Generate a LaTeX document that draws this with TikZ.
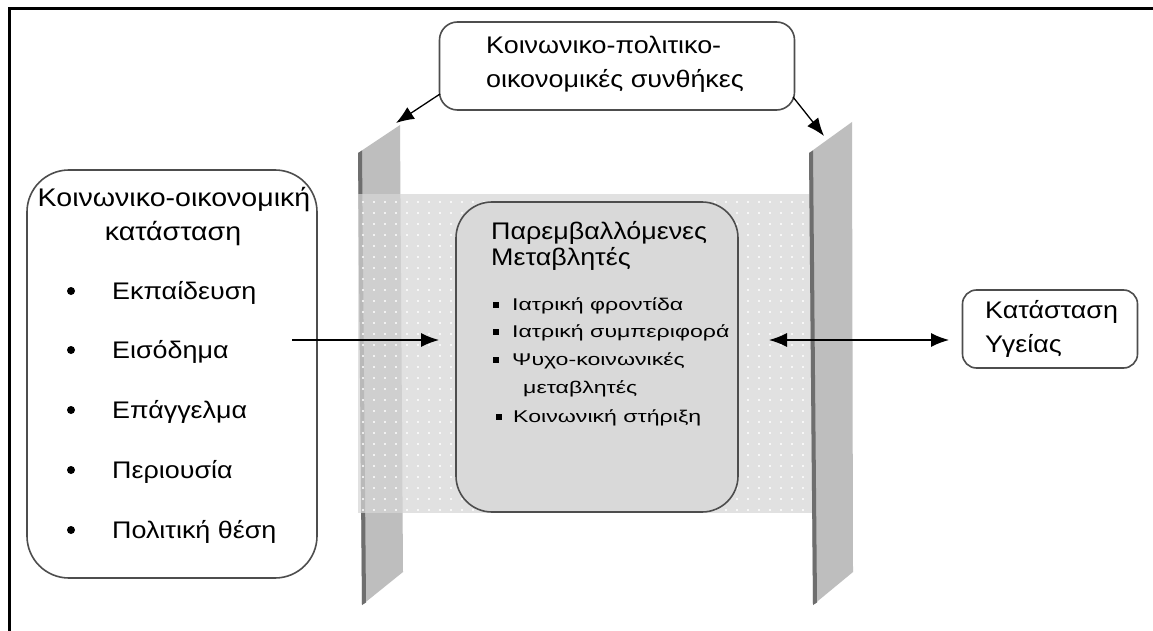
\documentclass[tikz,border=0pt]{standalone}
\usepackage{fontspec}
\setmainfont{Liberation Sans}
\newfontfamily\widefont[FakeStretch=1.12]{Liberation Sans}
\newfontfamily\xwidefont[FakeStretch=1.36]{Liberation Sans}
\usetikzlibrary{arrows.meta,patterns.meta}
\definecolor{pole}{HTML}{BEBEBE}
\definecolor{poledark}{HTML}{6E6E6E}
\definecolor{band}{HTML}{D6D6D6}
\definecolor{boxfill}{HTML}{D9D9D9}
\definecolor{edge}{HTML}{4D4D4D}
\begin{document}
\begin{tikzpicture}[x=1pt,y=-1pt,
  big/.style={inner sep=0pt, anchor=base west, font=\widefont\fontsize{24}{29}\selectfont},
  bigc/.style={inner sep=0pt, anchor=base, font=\widefont\fontsize{25.5}{29}\selectfont},
  small/.style={inner sep=0pt, anchor=base west, font=\xwidefont\fontsize{17}{20}\selectfont},
  dotb/.style={circle, fill=black, inner sep=0pt, minimum size=8pt},
  sqb/.style={fill=black, inner sep=0pt, minimum size=6.5pt},
  roundbox/.style={draw=edge, line width=1.6pt, inner sep=0pt},
  arr/.style={-{Latex[length=18pt,width=14pt]}, line width=1.3pt},
  darr/.style={{Latex[length=18pt,width=14pt]}-{Latex[length=18pt,width=14pt]}, line width=1.3pt}
]
\useasboundingbox (0,0) rectangle (1153,631);
\fill[white] (0,0) rectangle (1153,631);
\draw[line width=3pt] (9.5,631) -- (9.5,8.5) -- (1153,8.5);

% left pole (behind band)
\fill[pole] (358,153) -- (400,125) -- (403,572) -- (362,605) -- cycle;
\fill[poledark] (358,153) -- (362,150.5) -- (366,602.5) -- (362,605) -- cycle;

% dotted band
\fill[band, opacity=0.72] (358,194) rectangle (812,513);
\fill[pattern={Dots[distance=11pt, radius=1.1pt]}, pattern color=white] (358,194) rectangle (812,513);

% right pole (in front of band)
\fill[pole] (809,153) -- (852,122) -- (853,572) -- (813,605) -- cycle;
\fill[poledark] (809,153) -- (813,150.5) -- (817,602.5) -- (813,605) -- cycle;

% boxes
\node[roundbox, rounded corners=42pt, minimum width=290pt, minimum height=408pt] (left) at (172,374) {};
\node[roundbox, rounded corners=18pt, minimum width=355pt, minimum height=88pt] (top) at (617,66) {};
\node[roundbox, rounded corners=36pt, fill=boxfill, minimum width=282pt, minimum height=310pt] (mid) at (597,357) {};
\node[roundbox, rounded corners=14pt, minimum width=175pt, minimum height=78pt] (right) at (1050,329) {};

% left box text
\node[bigc] (lt1) at (174,207) {Κοινωνικο-οικονομική};
\node[bigc] (lt2) at (173,240) {κατάσταση};
\foreach \y/\t [count=\i] in {299/Εκπαίδευση,358/Εισόδημα,418/Επάγγελμα,478/Περιουσία,538/Πολιτική θέση}{
  \node[dotb] (lb\i) at (71,\y-8) {};
  \node[big] (li\i) at (112,\y) {\t};
}

% top box text
\node[big] (tt1) at (486,54) {Κοινωνικο-πολιτικο-};
\node[big] (tt2) at (486,88) {οικονομικές συνθήκες};

% middle box text
\node[big] (mt1) at (491,239) {Παρεμβαλλόμενες};
\node[big] (mt2) at (491,265) {Μεταβλητές};
\node[sqb] (mb1) at (496,305) {};
\node[small] (mi1) at (512,310) {Ιατρική φροντίδα};
\node[sqb] (mb2) at (496,332) {};
\node[small] (mi2) at (512,337) {Ιατρική συμπεριφορά};
\node[sqb] (mb3) at (496,360) {};
\node[small] (mi3) at (512,365) {Ψυχο-κοινωνικές};
\node[small] (mi3b) at (523,393) {μεταβλητές};
\node[sqb] (mb4) at (499,417) {};
\node[small] (mi4) at (513,422) {Κοινωνική στήριξη};

% right box text
\node[big] (rt1) at (985,318) {Κατάσταση};
\node[big] (rt2) at (985,352) {Υγείας};

% connectors
\coordinate (p1) at (440,94);
\coordinate (p1e) at (396,123);
\coordinate (p2) at (793,97);
\coordinate (p2e) at (824,136);
\draw[arr] (p1) -- (p1e);
\draw[arr] (p2) -- (p2e);
\coordinate (a1s) at (292,340);
\coordinate (a1e) at (439,340);
\draw[arr] (a1s) -- (a1e);
\coordinate (a2s) at (769,340);
\coordinate (a2e) at (949,340);
\draw[darr] (a2s) -- (a2e);
\end{tikzpicture}
\end{document}
